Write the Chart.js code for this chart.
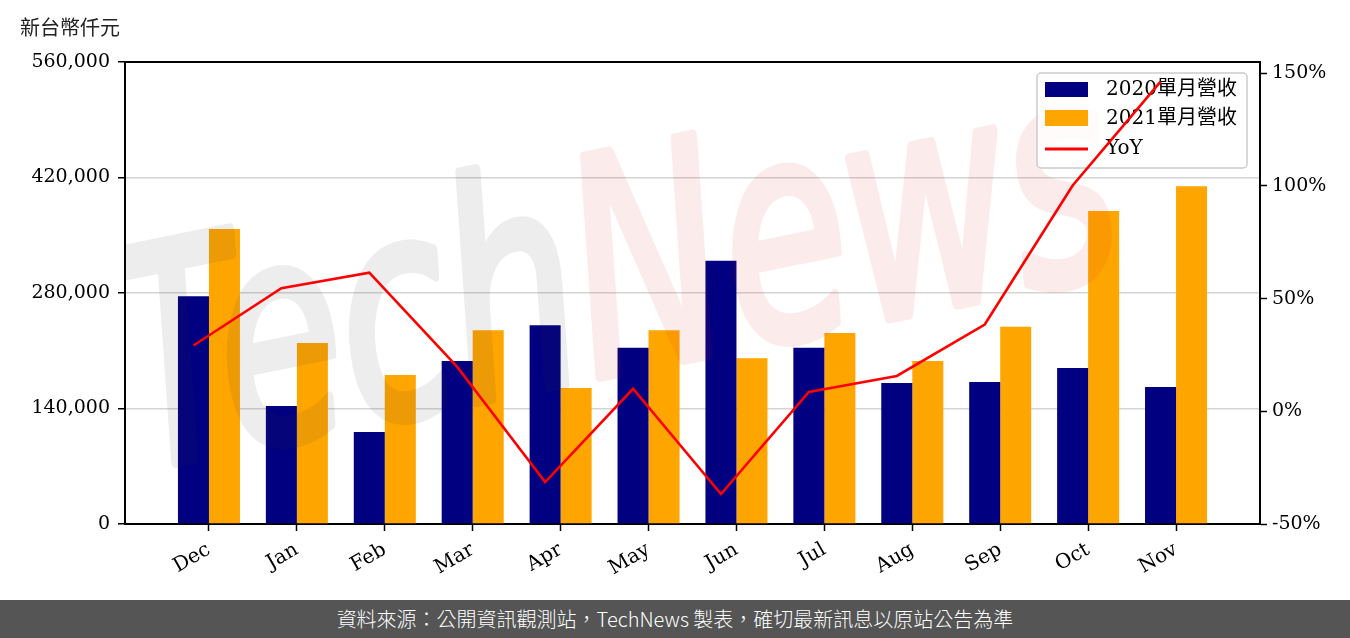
<!DOCTYPE html>
<html lang="zh-Hant-TW"><head><meta charset="utf-8">
<script src="https://cdn.jsdelivr.net/npm/chart.js@4/dist/chart.umd.min.js"></script>
<style>
html,body{margin:0;padding:0;background:#fff;}
#wrap{position:relative;width:1350px;height:600px;}
#footer{width:1350px;height:38px;background:#555555;color:#fff;font-family:"Noto Sans CJK TC","Noto Sans TC","Noto Sans",sans-serif;font-size:20px;font-weight:300;text-align:center;line-height:38px;white-space:nowrap;}
</style></head><body>
<div id="wrap"><canvas id="c" width="1350" height="600"></canvas></div>
<div id="footer" lang="zh-Hant-TW">資料來源：公開資訊觀測站，TechNews 製表，確切最新訊息以原站公告為準</div>
<script>
const months = ['Dec','Jan','Feb','Mar','Apr','May','Jun','Jul','Aug','Sep','Oct','Nov'];
const rev2020 = [276000, 143000, 111500, 197500, 241000, 213500, 319000, 213500, 171000, 172000, 189000, 166000];
const rev2021 = [357500, 219500, 180500, 235000, 165000, 235000, 201000, 231500, 197500, 239000, 379500, 409500];
const yoyPct = [29.2, 54.6, 61.5, 19.7, -31.4, 10.0, -36.7, 8.6, 15.7, 38.5, 100.2, 146.3];
const leftTicks = [0, 140000, 280000, 420000, 560000];
const rightTicks = [-50, 0, 50, 100, 150];
const seriesNames = ['2020單月營收', '2021單月營收', 'YoY'];
const unitLabel = '新台幣仟元';
const watermark = ['Tech', 'News'];

const COL1 = '#000080', COL2 = '#FFA500', COL3 = '#FF0000';
const SERIF = '"DejaVu Serif", "Noto Sans CJK TC", serif';
const BAR_HALF = 0.176; // line points sit at centre of first bar

function makeWatermark(W, H) {
  const off = document.createElement('canvas');
  off.width = W; off.height = H;
  const c = off.getContext('2d');
  c.translate(140, 470);
  c.rotate(-0.2);
  c.font = 'italic 200px "DejaVu Sans", sans-serif';
  const w1 = c.measureText(watermark[0]).width;
  const w2 = c.measureText(watermark[1]).width;
  c.scale(1010 / (w1 + w2), 1.5);
  c.lineJoin = 'round';
  c.lineCap = 'round';
  c.lineWidth = 7;
  c.fillStyle = c.strokeStyle = 'rgb(55,55,55)';
  c.fillText(watermark[0], 0, 0);
  c.strokeText(watermark[0], 0, 0);
  c.fillStyle = c.strokeStyle = 'rgb(215,40,40)';
  c.fillText(watermark[1], w1, 0);
  c.strokeText(watermark[1], w1, 0);
  return off;
}

const extras = {
  id: 'extras',
  beforeDatasetDraw(chart, args) {
    if (args.index !== 2) return;
    const ctx = chart.ctx, a = chart.chartArea;
    // watermark
    ctx.save();
    ctx.beginPath(); ctx.rect(a.left, a.top, a.right - a.left, a.bottom - a.top); ctx.clip();
    ctx.globalAlpha = 0.09;
    ctx.drawImage(makeWatermark(chart.width, chart.height), 0, 0);
    ctx.restore();

    // legend
    const bx = a.right - 223, by = a.top + 11, bw = 210, bh = 95;
    ctx.save();
    ctx.beginPath();
    ctx.roundRect(bx, by, bw, bh, 4);
    ctx.fillStyle = 'rgba(255,255,255,0.8)';
    ctx.fill();
    ctx.strokeStyle = '#cccccc';
    ctx.lineWidth = 1.5;
    ctx.stroke();
    const sxp = bx + 8, sw = 43;
    ctx.fillStyle = COL1; ctx.fillRect(sxp, by + 9, sw, 15);
    ctx.fillStyle = COL2; ctx.fillRect(sxp, by + 37, sw, 16);
    ctx.strokeStyle = COL3; ctx.lineWidth = 3;
    ctx.beginPath(); ctx.moveTo(sxp, by + 76); ctx.lineTo(sxp + sw, by + 76); ctx.stroke();
    ctx.fillStyle = '#000';
    ctx.font = '20px ' + SERIF;
    ctx.textBaseline = 'middle';
    ctx.textAlign = 'left';
    ctx.fillText(seriesNames[0], bx + 69, by + 17);
    ctx.fillText(seriesNames[1], bx + 69, by + 46);
    ctx.fillText(seriesNames[2], bx + 69, by + 76);
    ctx.restore();
  },
  afterDatasetsDraw(chart) {
    const ctx = chart.ctx, a = chart.chartArea;
    ctx.save();
    ctx.strokeStyle = '#000'; ctx.lineWidth = 2;
    ctx.beginPath(); ctx.moveTo(a.left - 1, a.top); ctx.lineTo(a.right + 1, a.top); ctx.stroke();
    ctx.restore();
  },
  afterDraw(chart) {
    const ctx = chart.ctx;
    ctx.save();
    ctx.fillStyle = '#222';
    ctx.font = '20px "Noto Sans CJK TC", sans-serif';
    ctx.textBaseline = 'middle';
    ctx.textAlign = 'left';
    ctx.fillText(unitLabel, 20, 27);
    ctx.restore();
  }
};

const tickFont = { family: SERIF, size: 19 };
const xTickFont = { family: SERIF, size: 20 };

new Chart(document.getElementById('c'), {
  type: 'bar',
  data: {
    datasets: [
      { label: seriesNames[0], data: rev2020.map((v, i) => ({ x: i, y: v })), backgroundColor: COL1, yAxisID: 'y', order: 1, categoryPercentage: 0.7055, barPercentage: 1.0 },
      { label: seriesNames[1], data: rev2021.map((v, i) => ({ x: i, y: v })), backgroundColor: COL2, yAxisID: 'y', order: 1, categoryPercentage: 0.7055, barPercentage: 1.0 },
      { type: 'line', label: seriesNames[2], data: yoyPct.map((v, i) => ({ x: i - BAR_HALF, y: v })), borderColor: COL3, borderWidth: 2.6, pointRadius: 0, yAxisID: 'y1', order: 0, tension: 0 }
    ]
  },
  options: {
    responsive: false,
    animation: false,
    layout: { padding: { top: 62, left: 0, right: 0, bottom: 0 } },
    plugins: { legend: { display: false }, tooltip: { enabled: false } },
    scales: {
      x: {
        type: 'linear', min: -0.955, max: 11.955, offset: false,
        afterBuildTicks: s => { s.ticks = months.map((_, i) => ({ value: i })); },
        afterFit: s => { s.height = 76; },
        ticks: { callback: v => months[v], autoSkip: false, maxRotation: 30, minRotation: 30, font: xTickFont, color: '#000', padding: 7 },
        grid: { offset: false, drawOnChartArea: false, drawTicks: true, tickLength: 7, tickColor: '#000', tickWidth: 1.5 },
        border: { color: '#000', width: 2 }
      },
      y: {
        type: 'linear', position: 'left', min: 0, max: 560000,
        afterBuildTicks: s => { s.ticks = leftTicks.map(v => ({ value: v })); },
        afterFit: s => { s.width = 125; },
        ticks: { callback: v => v.toLocaleString('en-US'), font: tickFont, color: '#000', padding: 8 },
        grid: { color: '#d4d4d4', lineWidth: 1.5, tickColor: '#000', tickLength: 7, tickWidth: 1.5 },
        border: { color: '#000', width: 2 }
      },
      y1: {
        type: 'linear', position: 'right', min: -50, max: 155,
        afterBuildTicks: s => { s.ticks = rightTicks.map(v => ({ value: v })); },
        afterFit: s => { s.width = 90; },
        ticks: { callback: v => v + '%', font: tickFont, color: '#000', padding: 5 },
        grid: { drawOnChartArea: false, tickColor: '#000', tickLength: 7, tickWidth: 1.5 },
        border: { color: '#000', width: 2 }
      }
    }
  },
  plugins: [extras]
});
</script>
</body></html>
